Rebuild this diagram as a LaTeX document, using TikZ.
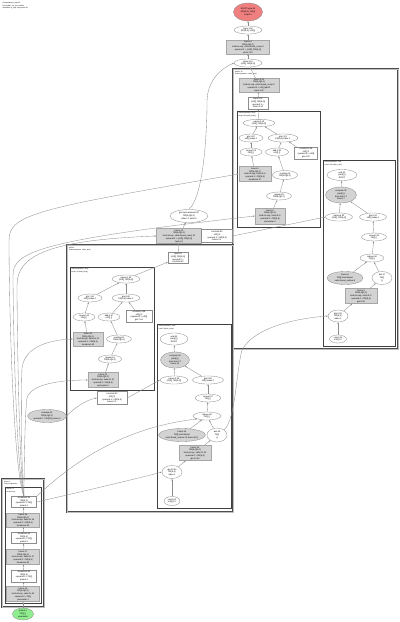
\documentclass[tikz,border=0pt]{standalone}
\usepackage{fontspec}
\setmainfont{Liberation Sans}
\usetikzlibrary{shapes.geometric,arrows.meta}
\definecolor{rootred}{RGB}{240,128,128}
\definecolor{paramgreen}{RGB}{144,238,144}
\definecolor{fusegray}{RGB}{211,211,211}
\newcommand\fsn{\fontsize{1.6}{2.05}\selectfont}
\newcommand\fsl{\fontsize{1.25}{1.6}\selectfont}
\newcommand\nd[7]{\node[#2,minimum width={#5*0.75pt},minimum height={#6*0.75pt}] (#1) at (#3,#4) {#7};}
\tikzset{
  base/.style={font=\fsn, align=center, inner sep=0.2pt, line width=0.25pt, draw=black!45},
  ell/.style={base, ellipse, fill=white},
  gell/.style={base, ellipse, fill=fusegray},
  rell/.style={base, ellipse, fill=rootred},
  pell/.style={base, ellipse, fill=paramgreen},
  wbox/.style={base, rectangle, fill=white},
  gbox/.style={base, rectangle, fill=fusegray, draw=black!35},
  edge/.style={draw=black!45, line width=0.25pt, -{Stealth[length=1.5pt,width=1.1pt]}},
  outerclu/.style={draw=black!70, line width=0.45pt, double=black!25, double distance=0.35pt},
  innerclu/.style={draw=black!75, line width=0.55pt},
  clabel/.style={font=\fsl, align=left, anchor=north west, inner sep=0.3pt}
}
\begin{document}
\begin{tikzpicture}[x=0.75pt,y=-0.75pt]
\useasboundingbox[fill=white] (0,0) rectangle (400,622);
% header
\node[clabel] (hdr) at (2,2) {Computation jit\_step.26\\Executable: xla\_cpu\_module\\HloModule jit\_step, entry=main.26};

% ---------------- clusters ----------------
\draw[outerclu] (233,69) rectangle (398,349);
\node[clabel] (lA) at (234.5,70.5) {while.1.12\\Subcomputation: while\_body};
\draw[innerclu] (237,111) rectangle (320,227);
\node[clabel] (lAb) at (238,112) {Subcomputation: body\\body.3.18 (while\_body)};
\draw[innerclu] (323,160) rectangle (395,346);
\node[clabel] (lAc) at (324,161) {Subcomputation: cond\\cond.2.30 (while\_cond)};

\draw[outerclu] (67,245) rectangle (233,512);
\node[clabel] (lB) at (68.5,246.5) {while.9\\Subcomputation: while\_body};
\draw[innerclu] (70,267) rectangle (154,390);
\node[clabel] (lBb) at (71,268) {Subcomputation: body\\body.1.4 (while\_body)};
\draw[innerclu] (157,324) rectangle (231,508);
\node[clabel] (lBc) at (158,325) {Subcomputation: cond\\cond.5 (while\_cond)};

\draw[outerclu] (2,479) rectangle (44,607);
\node[clabel] (lC) at (3.5,480.5) {fusion.2\\Fused expression};
\draw[innerclu] (5,487) rectangle (41.5,603);
\node[clabel] (lCi) at (6,488) {fusion.2.1\\kind=kLoop};

% ---------------- top chain ----------------
\nd{root}{rell}{248}{12}{29}{18}{ROOT tuple.26\\(f32[8,4], s32[])\\output 0}
\nd{n1}{ell}{248}{30}{28}{8}{tuple.1.18\\(f32[8,4], s32[])}
\nd{n2}{gbox}{248}{47}{43}{14}{fusion.4\\f32[8,4]\{1,0\}\\kind=kLoop, calls=fused\_comp.4\\operand 0 = (s32[], f32[8,4])\\while.1.12}
\nd{n3}{ell}{248}{63}{28}{8}{while.1.12\\(s32[], f32[8,4])}

% ---------------- cluster A ----------------
\nd{A1}{gbox}{259}{85}{40}{13}{fusion.3.21\\f32[8,4]\{1,0\}\\kind=kLoop, calls=fused\_comp.3\\operand 0 = s32[] add.2\\tuple.3.20}
\nd{A2}{wbox}{258}{103}{20}{12}{tuple.3.20\\(s32[], f32[8,4])\\operand 1 =\\fusion.3.21}
\nd{b1}{ell}{259}{123}{32}{7}{param.3.19\\(s32[], f32[8,4])}
\nd{b2}{ell}{251}{138}{24}{8}{gte.1.22\\s32[] index 0}
\nd{b3}{ell}{283}{138}{30}{8}{gte.2.23\\f32[8,4] index 1}
\nd{b4}{ell}{251}{152}{22}{8}{convert.24\\f32[] \{\}}
\nd{b5}{ell}{277}{152}{23}{8}{add.2.25\\s32[] \{\}}
\nd{b6}{wbox}{306}{153}{23}{12}{constant.1.26\\s32[] 1\\operand 0 = s32[]\\gte.1.22}
\nd{b7}{gbox}{255}{174}{32}{15}{fusion.5\\f32[8,4]\{1,0\}\\kind=kLoop, calls=fc.5\\operand 1 = f32[8,4]\\broadcast.27}
\nd{b8}{ell}{285}{175}{25}{9}{multiply.28\\f32[8,4]\{1,0\}}
\nd{b9}{ell}{279}{196}{25}{8}{negate.29\\f32[8,4]\{1,0\}}
\nd{b10}{gbox}{270}{216}{30}{16}{fusion.6\\f32[8,4]\{1,0\}\\kind=kLoop, calls=fc.6\\operand 0 = f32[8,4]\\parameter.0}

\nd{c1}{ell}{342}{175}{30}{11}{and.31\\pred[] \{\}\\ROOT}
\nd{c2}{gell}{341}{195}{31}{16}{compare.32\\pred[] \{\}\\direction=LT\\fusion.7}
\nd{c3}{ell}{339}{217}{27}{8}{param.4.33\\(s32[], f32[8,4])}
\nd{c4}{ell}{373}{217}{27}{8}{gte.5.34\\s32[] index 0}
\nd{c5}{ell}{374}{237}{25}{8}{convert.35\\f32[] \{\}}
\nd{c6}{ell}{372}{258}{24}{8}{reduce.36\\f32[] \{\}}
\nd{c7}{gell}{345}{278}{36}{13}{fusion.8\\f32[] kind=kInput\\calls=fused\_reduce.8}
\nd{c8}{ell}{382}{278}{20}{13}{abs.37\\f32[]\\\{\}}
\nd{c9}{gbox}{361}{296}{32}{15}{fusion.9\\f32[8,4]\{1,0\}\\kind=kLoop, calls=fc.9\\operand 0 = f32[8,4]\\gte.6.38}
\nd{c10}{ell}{338}{316}{20}{12}{gte.6.38\\f32[8,4]\\index 1}
\nd{c11}{ell}{338}{339}{17}{8}{const.39\\s32[] 10}

% ---------------- middle ----------------
\nd{m1}{ell}{189}{216}{38}{13}{get-tuple-element.40\\f32[8,4]\{1,0\}\\index=1, while.9}
\nd{m2}{gbox}{179}{236}{45}{15}{fusion.10\\f32[8,4]\{1,0\}\\kind=kLoop, calls=fused\_comp.10\\operand 0 = (s32[], f32[8,4])\\tuple.41}
\nd{m3}{wbox}{217}{236}{31}{13}{constant.42\\s32[] 0\\operand 1 = f32[8,4]\\fusion.2.1}

% ---------------- cluster B ----------------
\nd{B2}{wbox}{178}{258}{20}{11}{tuple.41\\(s32[], f32[8,4])\\operand 0 =\\constant.42}
\nd{bb1}{ell}{126}{279}{28}{8}{param.1.43\\(s32[], f32[8,4])}
\nd{bb2}{ell}{90}{298}{24}{8}{gte.7.44\\s32[] index 0}
\nd{bb3}{ell}{126}{298}{28}{8}{gte.8.45\\f32[8,4] index 1}
\nd{bb4}{ell}{84}{317}{22}{8}{convert.46\\f32[] \{\}}
\nd{bb5}{ell}{109}{317}{22}{8}{add.3.47\\s32[] \{\}}
\nd{bb6}{wbox}{139}{316}{26}{12}{constant.2.48\\s32[] 1\\operand 0 = s32[]\\gte.7.44}
\nd{bb7}{gbox}{88}{339}{30}{14}{fusion.11\\f32[8,4]\{1,0\}\\kind=kLoop, calls=fc.11\\operand 1 = f32[8,4]\\broadcast.49}
\nd{bb8}{ell}{119}{339}{25}{8}{multiply.50\\f32[8,4]\{1,0\}}
\nd{bb9}{ell}{110}{359}{23}{8}{negate.51\\f32[8,4]\{1,0\}}
\nd{bb10}{gbox}{103}{380}{30}{15}{fusion.12\\f32[8,4]\{1,0\}\\kind=kLoop, calls=fc.12\\operand 0 = f32[8,4]\\parameter.0}
\nd{wB}{wbox}{112}{398}{30}{13}{constant.52\\s32[] 0\\operand 1 = f32[8,4]\\fusion.2.1}

\nd{cb1}{ell}{174}{339}{28}{12}{and.53\\pred[] \{\}\\ROOT}
\nd{cb2}{gell}{175}{360}{29}{16}{compare.54\\pred[] \{\}\\direction=LT\\fusion.13}
\nd{cb3}{ell}{174}{380}{28}{8}{param.2.55\\(s32[], f32[8,4])}
\nd{cb4}{ell}{208}{380}{31}{8}{gte.9.56\\s32[] index 0}
\nd{cb5}{ell}{208}{398}{26}{8}{convert.57\\f32[] \{\}}
\nd{cb6}{ell}{207}{416}{28}{8}{reduce.58\\f32[] \{\}}
\nd{cb7}{gell}{182}{435}{45}{13}{fusion.14\\f32[] kind=kInput\\calls=fused\_reduce.14, dims=\{0,1\}}
\nd{cb8}{ell}{217}{435}{20}{14}{abs.59\\f32[]\\\{\}}
\nd{cb9}{gbox}{195}{453}{32}{15}{fusion.15\\f32[8,4]\{1,0\}\\kind=kLoop, calls=fc.15\\operand 0 = f32[8,4]\\gte.10.60}
\nd{cb10}{ell}{172}{472}{20}{13}{gte.10.60\\f32[8,4]\\index 1}
\nd{cb11}{ell}{172}{501}{16}{9}{const.61\\s32[] 10}

\nd{G}{gell}{47}{416}{35}{13}{reshape.62\\f32[8,4]\{1,0\}\\operand 0 = f32[32] param.0}

% ---------------- cluster C (bottom left) ----------------
\nd{w1}{wbox}{24}{502}{25}{11}{broadcast.63\\f32[8,4]\\operand 0 = f32[]\\param.1}
\nd{g1}{gbox}{23}{520}{33}{14}{fusion.16\\f32[8,4]\{1,0\}\\kind=kLoop, calls=fc.16\\operand 0 = f32[8,4]\\broadcast.64}
\nd{w2}{wbox}{24}{538}{25}{11}{broadcast.64\\f32[8,4]\\operand 0 = f32[]\\param.1}
\nd{g2}{gbox}{23}{557}{33}{15}{fusion.17\\f32[8,4]\{1,0\}\\kind=kLoop, calls=fc.17\\operand 0 = f32[8,4]\\broadcast.65}
\nd{w3}{wbox}{24}{576}{25}{12}{broadcast.65\\f32[8,4]\\operand 0 = f32[]\\param.1}
\nd{g3}{gbox}{23}{594}{33}{15}{fusion.18\\f32[8,4]\{1,0\}\\kind=kLoop, calls=fc.18\\operand 0 = f32[]\\parameter.1}
\nd{P}{pell}{23}{614}{21}{12}{param.1\\f32[] \{\}\\parameter}

% ---------------- edges ----------------
\draw[edge] (n1) -- (root);
\draw[edge] (n2) -- (n1);
\draw[edge] (n3) -- (n2);
\draw[edge] (A1) -- (n3);
\draw[edge] (A2) -- (A1);
\draw[edge] (b1) -- (A2);
\draw[edge] (b2) -- (b1);
\draw[edge] (b3) -- (b1);
\draw[edge] (b4) -- (b2);
\draw[edge] (b5) -- (b3);
\draw[edge] (b6) -- (b3);
\draw[edge] (b7) -- (b4);
\draw[edge] (b8) -- (b5);
\draw[edge] (b9) -- (b8);
\draw[edge] (b10) -- (b9);
\draw[edge] (c2) -- (c1);
\draw[edge] (c3) -- (c2);
\draw[edge] (c4) -- (c2);
\draw[edge] (c5) -- (c4);
\draw[edge] (c6) -- (c5);
\draw[edge] (c7) -- (c6);
\draw[edge] (c8) -- (c6);
\draw[edge] (c9) -- (c8);
\draw[edge] (c10) -- (c9);
\draw[edge] (c11) -- (c10);

\draw[edge] (m1.north) .. controls (204,196) and (207,130) .. (207,102) .. controls (207,80) and (222,68) .. (n3.west);
\draw[edge] (m2) -- (m1);
\draw[edge] (m3.east) -- (c3.west);
\draw[edge] (B2) -- (m2);
\draw[edge] (bb1) -- (B2);
\draw[edge] (bb2) -- (bb1);
\draw[edge] (bb3) -- (bb1);
\draw[edge] (bb4) -- (bb2);
\draw[edge] (bb5) -- (bb3);
\draw[edge] (bb6) -- (bb3);
\draw[edge] (bb7) -- (bb4);
\draw[edge] (bb8) -- (bb5);
\draw[edge] (bb9) -- (bb8);
\draw[edge] (bb10) -- (bb9);
\draw[edge] (G.east) .. controls (72,410) and (85,400) .. (wB.west);
\draw[edge] (wB.east) -- (cb3.west);
\draw[edge] (cb2) -- (cb1);
\draw[edge] (cb3) -- (cb2);
\draw[edge] (cb4) -- (cb2);
\draw[edge] (cb5) -- (cb4);
\draw[edge] (cb6) -- (cb5);
\draw[edge] (cb7) -- (cb6);
\draw[edge] (cb8) -- (cb6);
\draw[edge] (cb9) -- (cb8);
\draw[edge] (cb10) -- (cb9);
\draw[edge] (cb11) -- (cb10);
\draw[edge] (cb8.north east) .. controls (236,418) and (236,372) .. (242,350) .. controls (255,326) and (300,318) .. (c10.west);

\draw[edge] (g1) -- (w1);
\draw[edge] (w2) -- (g1);
\draw[edge] (g2) -- (w2);
\draw[edge] (w3) -- (g2);
\draw[edge] (g3) -- (w3);
\draw[edge] (P) -- (g3);

% long edges from the bottom-left fusion
\draw[edge] (w1.north) .. controls (13,470) and (9,300) .. (9,240) .. controls (9,214) and (40,208) .. (b7.west);
\draw[edge] (w1.north) .. controls (16,470) and (13,310) .. (13,275) .. controls (13,252) and (40,240) .. (b10.west);
\draw[edge] (w1.north) .. controls (19,470) and (17,320) .. (17,285) .. controls (17,255) and (50,240) .. (m2.west);
\draw[edge] (w1.north) .. controls (21,470) and (21,385) .. (22,368) .. controls (25,346) and (50,340) .. (bb7.west);
\draw[edge] (w1.north) .. controls (24,470) and (25,410) .. (27,398) .. controls (31,384) and (60,380) .. (bb10.west);
\draw[edge] (w1.east) .. controls (80,492) and (140,478) .. (cb10.west);
\draw[edge] (w1.north east) .. controls (70,465) and (120,428) .. (cb6.south west);
\end{tikzpicture}
\end{document}
